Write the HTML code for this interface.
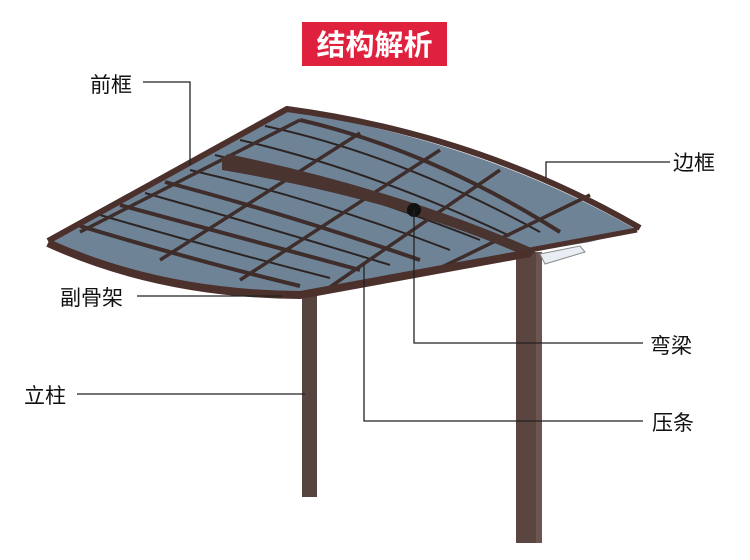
<!DOCTYPE html>
<html><head><meta charset="utf-8"><style>
body{margin:0;width:750px;height:560px;background:#fff;overflow:hidden}
svg{display:block}
text{font-family:"Liberation Sans","Noto Sans CJK SC",sans-serif}
</style></head><body>
<svg width="750" height="560" viewBox="0 0 750 560">
<rect x="302" y="288" width="15" height="209" fill="#574340"/>
<rect x="516" y="252" width="26" height="291" fill="#5a4541"/>
<rect x="536" y="252" width="6" height="291" fill="#6b5550"/>
<path d="M48,243 L287,111 Q480,140 637,230 L590,242 L530,252 L300,292 Q160,290 48,243 Z" fill="#6f8397"/>
<g stroke="#3e2d2a" stroke-width="4" fill="none">
<path d="M80,226 Q200,262 300,286"/>
<path d="M120,205 Q250,240 360,270"/>
<path d="M165,182 Q290,215 420,260"/>
<path d="M300,120 Q430,150 560,232"/>
</g>
<g stroke="#2c2422" stroke-width="2" fill="none">
<path d="M100,215 Q220,250 330,278"/>
<path d="M145,193 Q270,228 390,265"/>
<path d="M190,170 Q320,200 450,250"/>
<path d="M215,155 Q340,185 480,240"/>
<path d="M240,140 Q370,170 510,236"/>
<path d="M265,126 Q400,155 540,232"/>
</g>
<g stroke="#3e2d2a" stroke-width="3.5" fill="none">
<path d="M80,232 L300,120"/>
<path d="M160,260 L360,133"/>
<path d="M240,280 L440,150"/>
<path d="M330,287 L500,170"/>
<path d="M440,268 L590,195"/>
</g>
<path d="M222,158 L228,154 Q400,190 536,250 L530,258 Q400,200 222,170 Z" fill="#4a3430"/>
<path d="M48,241 L287,109 Q480,135 640,228" fill="none" stroke="#4b302b" stroke-width="6"/>
<path d="M48,243 Q160,294 300,295 L530,253" fill="none" stroke="#4b302b" stroke-width="8"/>
<path d="M530,250 L637,230" fill="none" stroke="#4b302b" stroke-width="5"/>
<path d="M540,254 L580,246 L585,252 L545,264Z" fill="#e8eef4" stroke="#888" stroke-width="1"/>
<circle cx="414" cy="210" r="7" fill="#111"/>
<g stroke="#222" stroke-width="1.3" fill="none">
<path d="M143,82 H190 V165"/>
<path d="M670,162 H546 V178"/>
<path d="M137,296 H282"/>
<path d="M414,210 V343 H643"/>
<path d="M364,265 V421 H643"/>
<path d="M77,394 H305"/>
</g>
<rect x="302" y="22" width="145" height="44" fill="#e0213e"/>
<text x="374.5" y="55" font-size="29" font-weight="bold" fill="#fff" text-anchor="middle">结构解析</text>
<g font-size="21" fill="#111">
<text x="90" y="92">前框</text>
<text x="673" y="170">边框</text>
<text x="60" y="305">副骨架</text>
<text x="650" y="353">弯梁</text>
<text x="652" y="430">压条</text>
<text x="24" y="403">立柱</text>
</g>
</svg>
</body></html>
